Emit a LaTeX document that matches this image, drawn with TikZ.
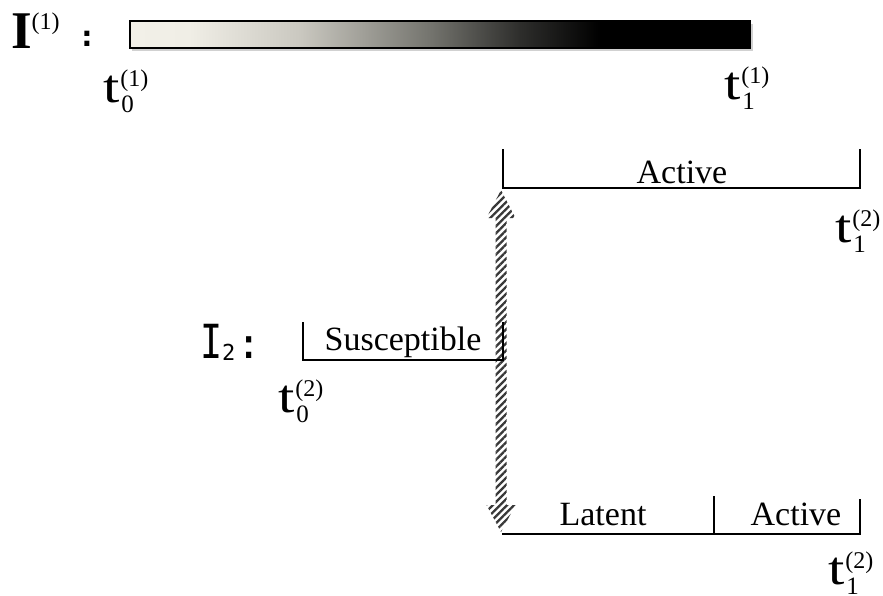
\documentclass[tikz,border=0pt]{standalone}
\usepackage{fontspec}
\setmainfont{Liberation Serif}
\newfontfamily\monof{DejaVu Sans Mono}
\newfontfamily\sansf{DejaVu Sans}
\usepackage{graphicx}
\usetikzlibrary{patterns.meta,calc}
\pgfdeclarehorizontalshading{barshade}{100bp}{%
  color(0bp)=(rgb,255:red,242;green,240;blue,232);
  color(25bp)=(rgb,255:red,242;green,240;blue,232);
  color(29.8bp)=(rgb,255:red,240;green,238;blue,230);
  color(38.7bp)=(rgb,255:red,202;green,200;blue,192);
  color(49.2bp)=(rgb,255:red,116;green,116;blue,110);
  color(56.5bp)=(rgb,255:red,45;green,45;blue,43);
  color(62.9bp)=(rgb,255:red,0;green,0;blue,0);
  color(100bp)=(rgb,255:red,0;green,0;blue,0)}
\newcommand{\tlab}[2]{{\fontsize{47}{47}\selectfont\scalebox{1.25}[1]{t}}\kern1pt\rlap{\raisebox{16pt}{\fontsize{24}{24}\selectfont(#1)}}\kern1pt\raisebox{-10pt}{\fontsize{25}{25}\selectfont #2}}
\tikzset{
  lbl/.style={inner sep=0pt, outer sep=0pt, anchor=base, font=\fontsize{34}{34}\selectfont},
  tl/.style={inner sep=0pt, outer sep=0pt, anchor=base west},
  brk/.style={line width=1.3pt, line cap=rect},
}
\begin{document}
\begin{tikzpicture}[x=1pt,y=-1pt]
\useasboundingbox (0,0) rectangle (883,595);
% I^(1) label and colon
\node[tl] (I1) at (11,48) {{\fontsize{53}{53}\selectfont\bfseries I}\raisebox{19pt}{\fontsize{24}{24}\selectfont(1)}};
\node[inner sep=0pt] (col1) at (87,39) {\sansf\bfseries\fontsize{28}{28}\selectfont :};
% gradient bar
\fill[black, opacity=0.18] (132,24) rectangle (753,51);
\shade[shading=barshade] (130,21) rectangle (750,48);
\draw[line width=1.6pt] (130,21) rectangle (750,48);
\node[tl] (t01) at (103,102) {\tlab{1}{0}};
\node[tl] (t11) at (724,99) {\tlab{1}{1}};
% top bracket: Active
\coordinate (ta1) at (503,150);
\coordinate (ta2) at (503,188);
\coordinate (ta3) at (860,188);
\coordinate (ta4) at (860,150);
\draw[brk] (ta1) -- (ta2) -- (ta3) -- (ta4);
\node[lbl] (act1) at (682,183) {Active};
\node[tl] (t12a) at (835,242) {\tlab{2}{1}};
% I_2 label
\node[tl] (I2) at (200,358) {\monof\scalebox{0.78}[1]{\fontsize{47}{47}\selectfont I}\kern0pt\raisebox{-2pt}{\fontsize{22}{22}\selectfont 2}\kern1pt{\fontsize{42}{42}\selectfont :}};
% susceptible bracket
\coordinate (s1) at (303,323);
\coordinate (s2) at (303,360);
\coordinate (s3) at (503,360);
\coordinate (s4) at (503,323);
\node[lbl] (sus) at (403,350) {Susceptible};
\node[tl] (t02) at (278,412) {\tlab{2}{0}};
% hatched double arrow
\coordinate (atop) at (501,190);
\coordinate (abot) at (501,532);
\path[pattern={Lines[angle=45,distance=5pt,line width=2.3pt]}, pattern color=black!78]
  (atop) -- ++(14.5,28) -- ++(-9,0) -- ($(abot)+(5.5,-27)$) -- ++(9,0) -- (abot)
  -- ++(-14.5,-27) -- ++(9,0) -- ($(atop)+(-5.5,28)$) -- ++(-9,0) -- cycle;
\draw[brk] (s1) -- (s2) -- (s3) -- (s4);
% bottom bracket: Latent | Active
\coordinate (b1) at (503,534);
\coordinate (b2) at (860,534);
\coordinate (b3) at (860,500);
\coordinate (bm1) at (714,534);
\coordinate (bm2) at (714,497);
\draw[brk] (b1) -- (b2) -- (b3);
\draw[brk] (bm1) -- (bm2);
\node[lbl] (lat) at (603,525) {Latent};
\node[lbl] (act2) at (796,525) {Active};
\node[tl] (t12b) at (828,584) {\tlab{2}{1}};
\end{tikzpicture}
\end{document}
